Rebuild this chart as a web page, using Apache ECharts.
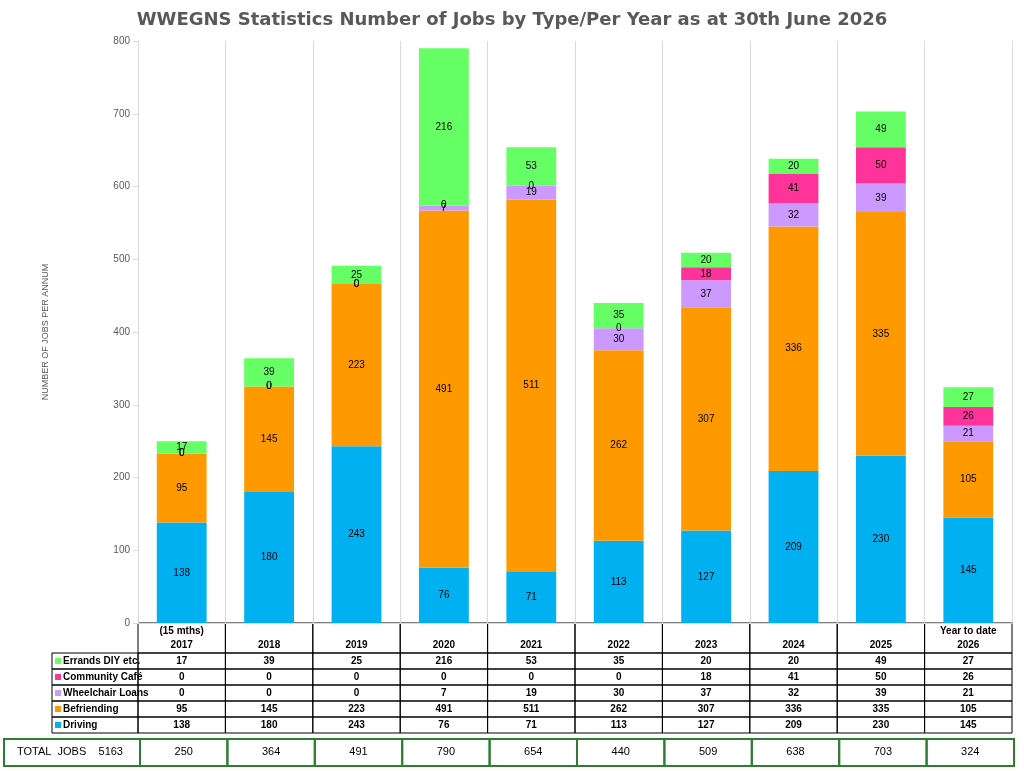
<!DOCTYPE html>
<html lang="en">
<head>
<meta charset="UTF-8">
<script src="https://cdn.jsdelivr.net/npm/echarts@6/dist/echarts.min.js"></script>
<style>body{margin:0;background:#fff}</style>
</head>
<body>
<div id="main" style="width:1024px;height:771px;"></div>
<script>
  var years = ['2017', '2018', '2019', '2020', '2021', '2022', '2023', '2024', '2025', '2026'];
  var topNotes = ['(15 mths)', '', '', '', '', '', '', '', '', 'Year to date'];
  var driving = [138, 180, 243, 76, 71, 113, 127, 209, 230, 145];
  var befriending = [95, 145, 223, 491, 511, 262, 307, 336, 335, 105];
  var wheelchair = [0, 0, 0, 7, 19, 30, 37, 32, 39, 21];
  var cafe = [0, 0, 0, 0, 0, 0, 18, 41, 50, 26];
  var errands = [17, 39, 25, 216, 53, 35, 20, 20, 49, 27];

  var series = [
    {name: 'Driving', data: driving, color: '#00B0F0'},
    {name: 'Befriending', data: befriending, color: '#FF9900'},
    {name: 'Wheelchair Loans', data: wheelchair, color: '#CC99FF'},
    {name: 'Community Café', data: cafe, color: '#FF3399'},
    {name: 'Errands DIY etc.', data: errands, color: '#66FF66'}
  ];
  var totals = years.map(function (y, i) {
    return series.reduce(function (s, se) { return s + se.data[i]; }, 0);
  });
  var grand = totals.reduce(function (a, b) { return a + b; }, 0);

  var L = 138, W = 874, cw = W / years.length;
  var g = [];
  function cell(x, y, w, h, stroke, lw) {
    g.push({type: 'rect', shape: {x: x, y: y, width: w, height: h},
      style: {fill: 'none', stroke: stroke || '#000', lineWidth: lw || 1}, silent: true});
  }
  function txt(x, y, t, align, bold, size) {
    g.push({type: 'text', x: x, y: y, style: {text: t, align: align || 'center', verticalAlign: 'middle',
      font: (bold ? 'bold ' : '') + (size || 10) + 'px Arial, Liberation Sans, sans-serif', fill: '#000'}, silent: true});
  }
  // header
  years.forEach(function (y, i) {
    var x = L + i * cw;
    cell(x, 623, cw, 30);
    txt(x + cw / 2, 631, topNotes[i], 'center', true);
    txt(x + cw / 2, 645, y, 'center', true);
  });
  // rows, top = errands
  var rows = series.slice().reverse();
  rows.forEach(function (s, r) {
    var y = 653 + r * 16;
    cell(52, y, L - 52, 16);
    g.push({type: 'rect', shape: {x: 55, y: y + 5, width: 6, height: 6}, style: {fill: s.color}, silent: true});
    txt(63, y + 8, s.name, 'left', true, 10);
    years.forEach(function (yy, i) {
      cell(L + i * cw, y, cw, 16);
      txt(L + i * cw + cw / 2, y + 8, String(s.data[i]), 'center', true);
    });
  });
  // totals row
  cell(4, 739, L - 2, 27, '#2E7D32', 2);
  txt(70, 752, 'TOTAL  JOBS    ' + grand, 'center', false, 11);
  totals.forEach(function (t, i) {
    cell(L + 2 + i * cw, 739, cw, 27, '#2E7D32', 2);
    txt(L + 2 + i * cw + cw / 2, 752, String(t), 'center', false, 11);
  });

  var chart = echarts.init(document.getElementById('main'));
  chart.setOption({
    animation: false,
    title: {text: 'WWEGNS Statistics Number of Jobs by Type/Per Year as at 30th June 2026', left: 'center', top: 6,
      textStyle: {fontFamily: 'DejaVu Sans', fontSize: 18, fontWeight: 'bold', color: '#595959'}},
    grid: {left: L, top: 41, width: W, height: 582},
    xAxis: {type: 'category', data: years, axisLabel: {show: false}, axisTick: {show: false},
      axisLine: {lineStyle: {color: '#d9d9d9'}},
      splitLine: {show: true, lineStyle: {color: '#d9d9d9'}}},
    yAxis: {type: 'value', min: 0, max: 800, interval: 100, name: 'NUMBER OF JOBS PER ANNUM',
      nameLocation: 'middle', nameGap: 88, nameTextStyle: {fontSize: 9, color: '#595959'},
      axisLine: {show: true, lineStyle: {color: '#d9d9d9'}}, axisTick: {show: true, lineStyle: {color: '#d9d9d9'}},
      axisLabel: {fontSize: 10, color: '#595959'}, splitLine: {show: false}},
    series: series.map(function (s) {
      return {name: s.name, type: 'bar', stack: 'a', data: s.data, barWidth: '57%',
        itemStyle: {color: s.color},
        label: {show: true, position: 'inside', color: '#000', fontSize: 10, fontFamily: 'Arial'}};
    }),
    graphic: g
  });
</script>
</body>
</html>
